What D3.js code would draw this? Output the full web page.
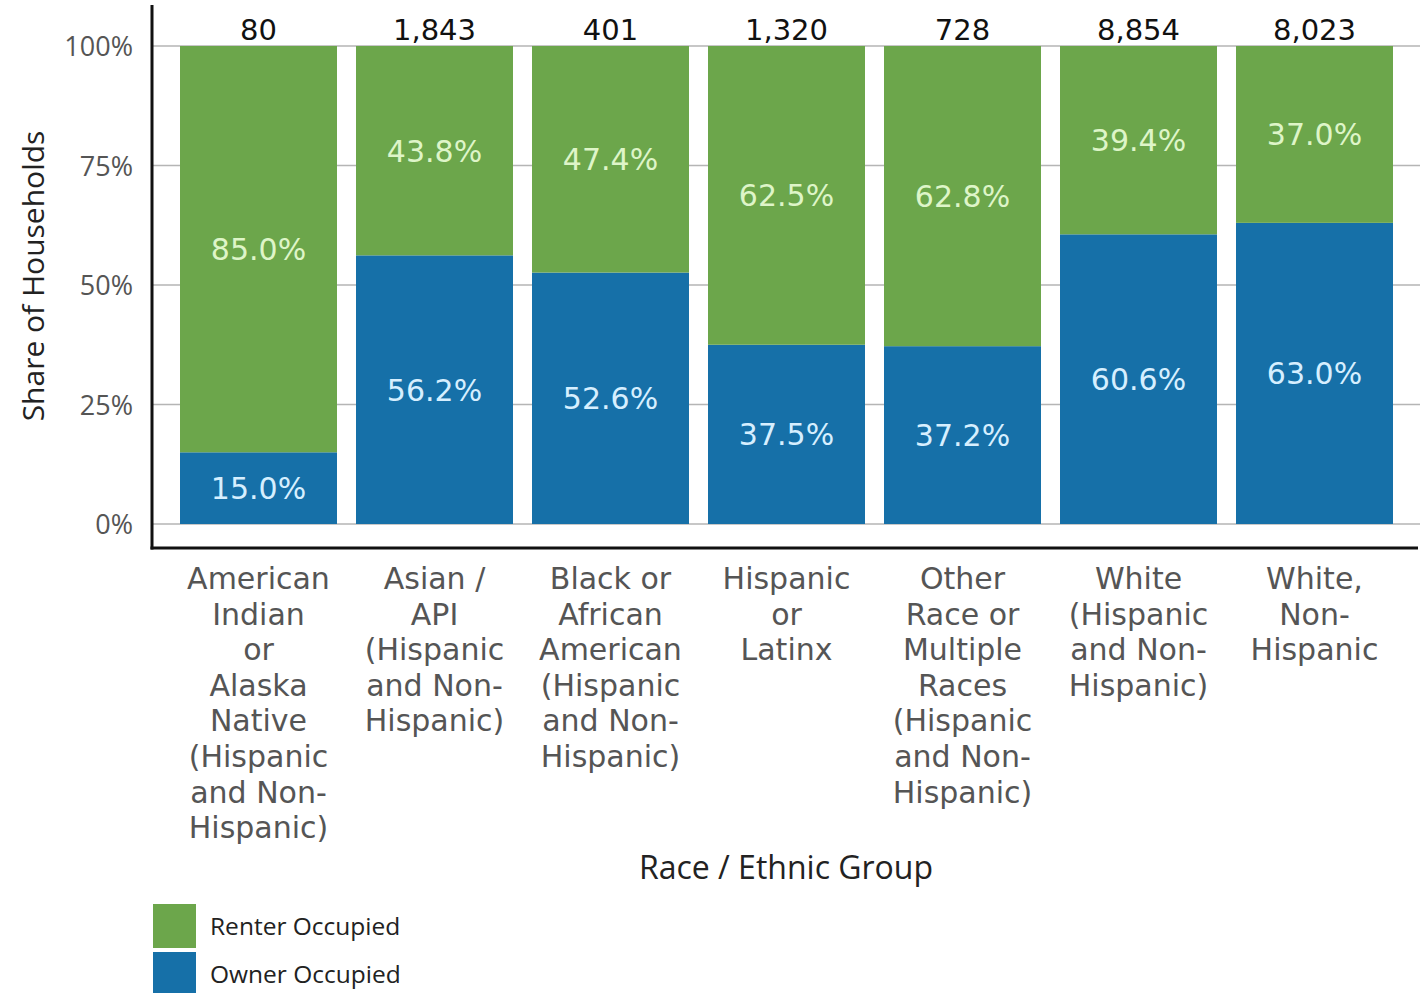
<!DOCTYPE html>
<html>
<head>
<meta charset="utf-8">
<script src="https://cdn.jsdelivr.net/npm/d3@7"></script>
<style>
  body { margin: 0; background: #fff; }
</style>
</head>
<body>
<div id="chart"></div>
<script>
// data
const groups = [
  'American Indian or Alaska Native (Hispanic and Non-Hispanic)',
  'Asian / API (Hispanic and Non-Hispanic)',
  'Black or African American (Hispanic and Non-Hispanic)',
  'Hispanic or Latinx',
  'Other Race or Multiple Races (Hispanic and Non-Hispanic)',
  'White (Hispanic and Non-Hispanic)',
  'White, Non-Hispanic'
]
const groupLines = [
  ['American', 'Indian', 'or', 'Alaska', 'Native', '(Hispanic', 'and Non-', 'Hispanic)'],
  ['Asian /', 'API', '(Hispanic', 'and Non-', 'Hispanic)'],
  ['Black or', 'African', 'American', '(Hispanic', 'and Non-', 'Hispanic)'],
  ['Hispanic', 'or', 'Latinx'],
  ['Other', 'Race or', 'Multiple', 'Races', '(Hispanic', 'and Non-', 'Hispanic)'],
  ['White', '(Hispanic', 'and Non-', 'Hispanic)'],
  ['White,', 'Non-', 'Hispanic']
]
const totals = ['80', '1,843', '401', '1,320', '728', '8,854', '8,023']
const owner = [15.0, 56.2, 52.6, 37.5, 37.2, 60.6, 63.0]
const renter = [85.0, 43.8, 47.4, 62.5, 62.8, 39.4, 37.0]
const yTicks = [0, 25, 50, 75, 100]
const seriesNames = ['Renter Occupied', 'Owner Occupied']

const W = 1425, H = 993
const green = '#6ca64b', blue = '#1670a8'

const svg = d3.select('#chart').append('svg')
    .attr('width', W).attr('height', H)

const x = d3.scaleBand()
    .domain(groups)
    .range([170.5, 1402.5])
    .paddingInner(0.108)
    .paddingOuter(0.054)

const y = d3.scaleLinear()
    .domain([0, 100])
    .range([524, 46])

// gridlines
svg.append('g')
    .selectAll('line')
    .data(yTicks)
    .join('line')
    .attr('x1', 152).attr('x2', 1420)
    .attr('y1', d => y(d)).attr('y2', d => y(d))
    .attr('stroke', '#b5b5b5')
    .attr('stroke-width', 1.5)

// y tick labels
svg.append('g')
    .selectAll('text')
    .data(yTicks)
    .join('text')
    .attr('x', 133)
    .attr('y', d => y(d) + 10)
    .attr('text-anchor', 'end')
    .attr('font-family', 'Open Sans')
    .attr('font-size', '27px')
    .attr('fill', '#555')
    .text(d => d + '%')

const rows = groups.map((g, i) => ({g, owner: owner[i], renter: renter[i], total: totals[i], lines: groupLines[i]}))

// owner (bottom)
svg.append('g')
    .selectAll('rect')
    .data(rows)
    .join('rect')
    .attr('x', d => x(d.g))
    .attr('width', x.bandwidth())
    .attr('y', d => y(d.owner))
    .attr('height', d => y(0) - y(d.owner))
    .attr('fill', blue)

// renter (top)
svg.append('g')
    .selectAll('rect')
    .data(rows)
    .join('rect')
    .attr('x', d => x(d.g))
    .attr('width', x.bandwidth())
    .attr('y', d => y(d.owner + d.renter))
    .attr('height', d => y(d.owner) - y(d.owner + d.renter))
    .attr('fill', green)

// value labels
const cx = d => x(d.g) + x.bandwidth() / 2

svg.append('g')
    .selectAll('text')
    .data(rows)
    .join('text')
    .attr('x', cx)
    .attr('y', d => (y(0) + y(d.owner)) / 2 + 11)
    .attr('text-anchor', 'middle')
    .attr('font-family', 'DejaVu Sans')
    .attr('font-size', '30px')
    .attr('fill', '#d6efff')
    .text(d => d.owner.toFixed(1) + '%')

svg.append('g')
    .selectAll('text')
    .data(rows)
    .join('text')
    .attr('x', cx)
    .attr('y', d => (y(d.owner) + y(d.owner + d.renter)) / 2 + 11)
    .attr('text-anchor', 'middle')
    .attr('font-family', 'DejaVu Sans')
    .attr('font-size', '30px')
    .attr('fill', '#def5c8')
    .text(d => d.renter.toFixed(1) + '%')

// totals
svg.append('g')
    .selectAll('text')
    .data(rows)
    .join('text')
    .attr('x', cx)
    .attr('y', 40)
    .attr('text-anchor', 'middle')
    .attr('font-family', 'DejaVu Sans')
    .attr('font-size', '29px')
    .attr('fill', '#111')
    .text(d => d.total)

// axis lines
svg.append('line')
    .attr('x1', 152).attr('x2', 152)
    .attr('y1', 5).attr('y2', 549.5)
    .attr('stroke', '#111').attr('stroke-width', 3)
svg.append('line')
    .attr('x1', 150.5).attr('x2', 1418)
    .attr('y1', 548).attr('y2', 548)
    .attr('stroke', '#111').attr('stroke-width', 3)

// category labels
const cat = svg.append('g')
    .selectAll('text')
    .data(rows)
    .join('text')
    .attr('text-anchor', 'middle')
    .attr('font-family', 'DejaVu Sans')
    .attr('font-size', '30px')
    .attr('fill', '#555')

cat.selectAll('tspan')
    .data(d => d.lines.map(l => ({l, x: cx(d)})))
    .join('tspan')
    .attr('x', d => d.x)
    .attr('y', (d, i) => 589 + i * 35.6)
    .text(d => d.l)

// axis titles
svg.append('text')
    .attr('x', 786).attr('y', 879)
    .attr('text-anchor', 'middle')
    .attr('font-family', 'Open Sans')
    .attr('font-size', '32px')
    .attr('fill', '#222')
    .text('Race / Ethnic Group')

svg.append('text')
    .attr('transform', 'translate(44, 276) rotate(-90)')
    .attr('text-anchor', 'middle')
    .attr('font-family', 'Open Sans')
    .attr('font-size', '30px')
    .attr('fill', '#222')
    .text('Share of Households')

// legend
const legend = svg.append('g')
    .selectAll('g')
    .data(seriesNames)
    .join('g')
    .attr('transform', (d, i) => `translate(153, ${904 + i * 48})`)

legend.append('rect')
    .attr('width', 43).attr('height', 44)
    .attr('fill', (d, i) => i === 0 ? green : blue)

legend.append('text')
    .attr('x', 57).attr('y', 31)
    .attr('font-family', 'Open Sans')
    .attr('font-size', '24.5px')
    .attr('fill', '#222')
    .text(d => d)
</script>
</body>
</html>
